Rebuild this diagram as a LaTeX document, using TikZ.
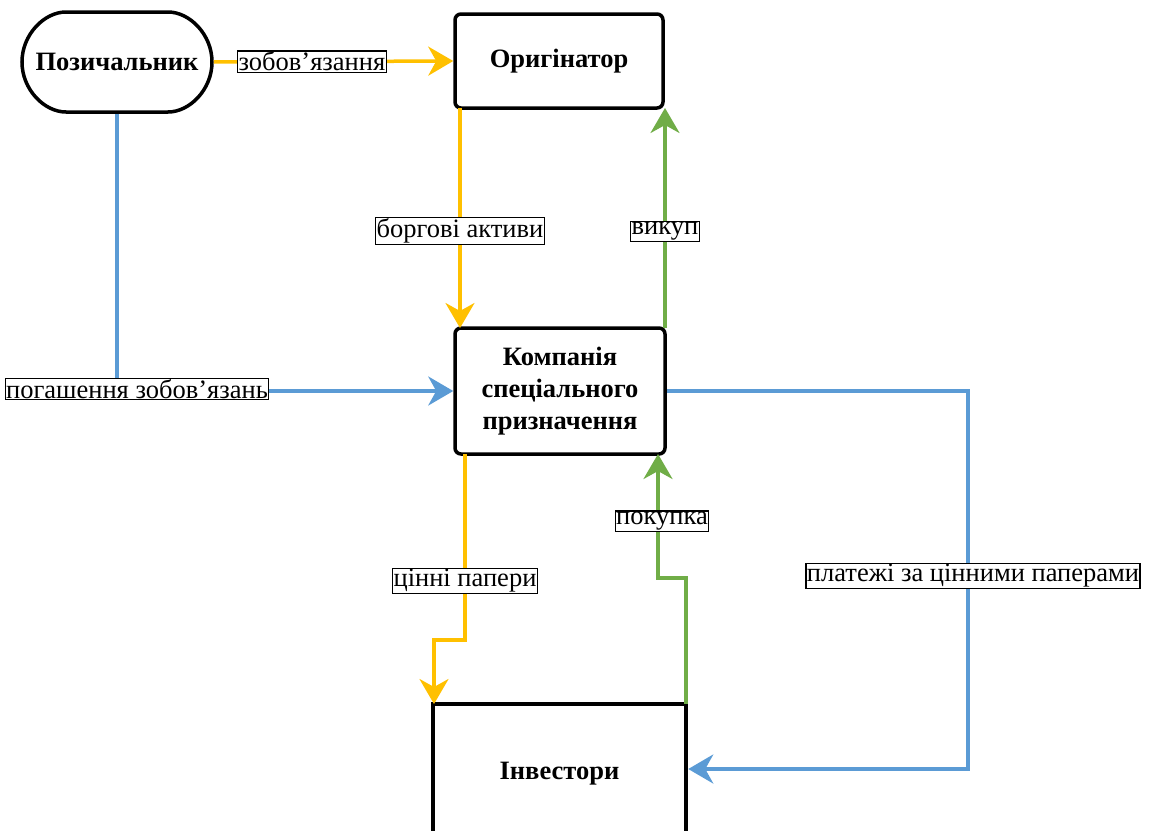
\documentclass[tikz,border=0pt]{standalone}
\usepackage{fontspec}
\setmainfont{Liberation Serif}
\usetikzlibrary{arrows.meta,shapes.misc}
\definecolor{corange}{RGB}{255,192,0}
\definecolor{cblue}{RGB}{91,155,213}
\definecolor{cgreen}{RGB}{112,173,71}
\begin{document}
\begin{tikzpicture}[x=1pt,y=-1pt,
  box/.style={draw=black,line width=3.5pt,rounded corners=6pt,fill=white,font=\fontsize{26.5}{32}\selectfont\bfseries,align=center,inner sep=0pt},
  lbl/.style={draw=black,line width=1.2pt,fill=white,font=\fontsize{26.5}{30}\selectfont,inner sep=1pt,outer sep=0pt},
  flow/.style={line width=3.5pt,-{Stealth[length=25pt,width=29pt,inset=8pt]}},
]
\useasboundingbox (0,0) rectangle (1153,830);
\node[box,rounded rectangle,minimum width=190pt,minimum height=100pt] (poz) at (117,62) {Позичальник};
\node[box,minimum width=208pt,minimum height=94pt] (orig) at (559,61) {Оригінатор};
\node[box,minimum width=210pt,minimum height=126pt] (ksp) at (560,391) {Компанія\\спеціального\\призначення};
\node[box,rounded corners=0pt,line width=4.5pt,minimum width=253pt,minimum height=130pt,text depth=0pt,yshift=0pt] (inv) at (559.5,769) {\raisebox{-4pt}{Інвестори}};

% orange: borrower -> originator
\draw[flow,corange] (poz.east) -- (orig.west) node[lbl,pos=0.41,text=black] (l1) {зобов’язання};
% orange: originator -> SPV
\coordinate (o1) at (460,108);
\coordinate (o2) at (460,328);
\draw[flow,corange] (o1) -- (o2) node[lbl,pos=0.56,text=black] (l2) {боргові активи};
% green: SPV -> originator
\coordinate (g1) at (665,328);
\coordinate (g2) at (665,108);
\draw[flow,cgreen] (g1) -- (g2) node[lbl,pos=0.44,text=black] (l3) {викуп};
% blue: borrower -> SPV
\coordinate (b1) at (poz.south |- ksp.west);
\draw[flow,cblue] (poz.south) -- (b1) -- (ksp.west);
\node[lbl] (l4) at (137,389) {погашення зобов’язань};
% blue: SPV -> investors
\coordinate (b2) at (ksp.east);
\coordinate (b3) at (968,391);
\coordinate (b4) at (b3 |- inv.east);
\draw[flow,cblue] (b2) -- (b3) -- (b4) -- (inv.east);
\node[lbl] (l5) at (973,576) {платежі за цінними паперами};
% orange: SPV -> investors
\coordinate (c1) at (465,454);
\coordinate (c2) at (465,640);
\coordinate (c3) at (434,640);
\coordinate (c4) at (434,704);
\draw[flow,corange] (c1) -- (c2) -- (c3) -- (c4);
\node[lbl] (l6) at (465,581) {цінні папери};
% green: investors -> SPV
\coordinate (d1) at (686,704);
\coordinate (d2) at (686,578);
\coordinate (d3) at (658,578);
\coordinate (d4) at (658,454);
\draw[flow,cgreen] (d1) -- (d2) -- (d3) -- (d4);
\node[lbl] (l7) at (662,521) {покупка};
\end{tikzpicture}
\end{document}
